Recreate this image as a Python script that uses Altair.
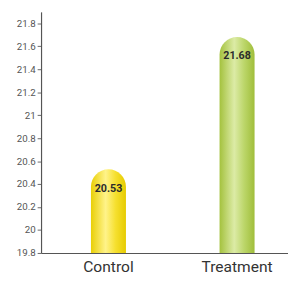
import altair as alt
import pandas as pd

groups = ["Control", "Treatment"]
values = [20.53, 21.68]
labels = ["20.53", "21.68"]
y_ticks = [19.8, 20.0, 20.2, 20.4, 20.6, 20.8, 21.0, 21.2, 21.4, 21.6, 21.8]

df = pd.DataFrame({"group": groups, "value": values, "label": labels})

FONT = "Roboto"

x_enc = alt.X(
    "group:N",
    sort=groups,
    scale=alt.Scale(paddingInner=0.72, paddingOuter=0.32, align=0.6),
    axis=alt.Axis(
        title=None, labelAngle=0, ticks=False, labelFontSize=16, labelColor="#333333",
        labelFont=FONT, labelPadding=6, domainColor="#555555", domainWidth=1.2,
    ),
)
y_enc = alt.Y(
    "value:Q",
    scale=alt.Scale(domain=[19.8, 21.9], zero=False, nice=False),
    axis=alt.Axis(
        title=None, values=y_ticks, grid=False, labelFontSize=10, labelColor="#555555",
        labelFont=FONT, tickSize=4, tickColor="#666666", labelPadding=2, labelOverlap=False,
        domainColor="#555555", domainWidth=1.2, labelExpr="format(datum.value, '.1~f')",
    ),
)

yellow = {
    "gradient": "linear", "x1": 0, "x2": 1, "y1": 0, "y2": 0,
    "stops": [
        {"color": "#e9cf05", "offset": 0},
        {"color": "#fff38a", "offset": 0.42},
        {"color": "#f6e030", "offset": 0.7},
        {"color": "#e6cb00", "offset": 1},
    ],
}
green = {
    "gradient": "linear", "x1": 0, "x2": 1, "y1": 0, "y2": 0,
    "stops": [
        {"color": "#a4c23e", "offset": 0},
        {"color": "#dceba6", "offset": 0.42},
        {"color": "#bcd66a", "offset": 0.7},
        {"color": "#a0be3a", "offset": 1},
    ],
}

base = alt.Chart(df)

bar_c = base.transform_filter(alt.datum.group == "Control").mark_bar(
    size=36, fill=yellow, cornerRadiusTopLeft=18, cornerRadiusTopRight=18
).encode(x=x_enc, y=y_enc, y2=alt.datum(19.8))
bar_t = base.transform_filter(alt.datum.group == "Treatment").mark_bar(
    size=36, fill=green, cornerRadiusTopLeft=18, cornerRadiusTopRight=18
).encode(x=x_enc, y=y_enc, y2=alt.datum(19.8))

text = base.mark_text(
    baseline="top", dy=14, fontSize=11, font=FONT, fontWeight="bold", color="#2b2b2b"
).encode(x=x_enc, y=y_enc, text="label:N")

chart = alt.layer(bar_c, bar_t, text).properties(
    width=254, height=248,
    autosize=alt.AutoSizeParams(type="none"),
    padding={"left": 34, "top": 0, "right": 0, "bottom": 30},
    background="white",
).configure_view(stroke=None)

chart.save("out.html", embed_options={"renderer": "svg", "actions": False})
